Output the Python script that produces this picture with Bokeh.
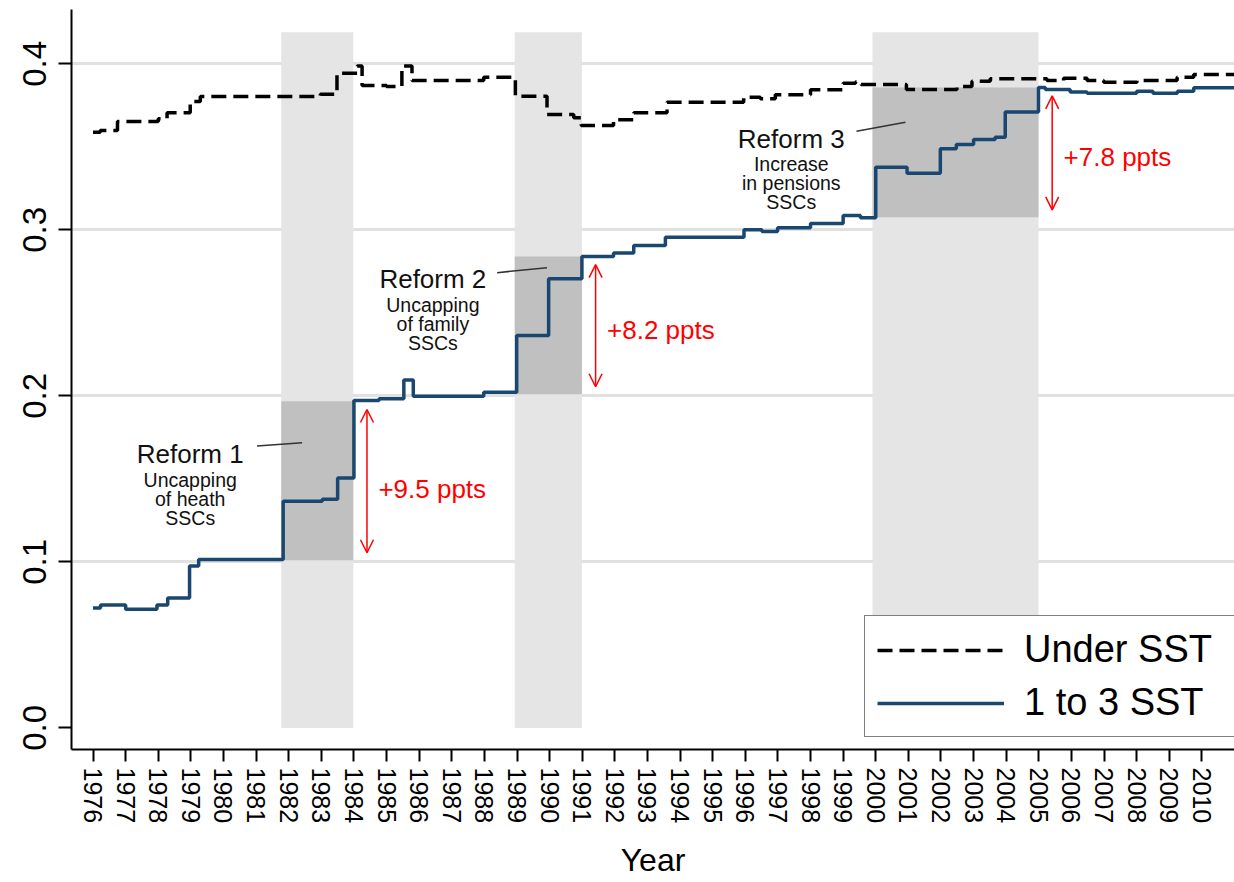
from bokeh.plotting import figure
from bokeh.models import (Range1d, FixedTicker, PrintfTickFormatter, Legend, LegendItem,
                          Arrow, OpenHead)
from bokeh.core.properties import value
from bokeh.embed import file_html
from bokeh.resources import INLINE

FONT = "Liberation Sans"

# ---------------- data ----------------
years = list(range(1976, 2011))
y_ticks = [0.0, 0.1, 0.2, 0.3, 0.4]
grid_ticks = [0.1, 0.2, 0.3, 0.4]

# "Under SST" (dashed black) : change points (time, value)
under_t = [1976.00, 1976.22, 1976.75, 1978.00, 1978.27, 1978.98, 1979.29, 1982.97,
           1983.48, 1984.10, 1984.25, 1985.00, 1985.47, 1985.78, 1987.98, 1988.95,
           1989.92, 1990.74, 1990.97, 1991.96, 1992.58, 1993.60, 1995.95, 1996.46,
           1996.92, 1998.00, 1999.00, 1999.38, 1999.55, 2000.94, 2002.49, 2002.95,
           2003.51, 2005.25, 2005.76, 2006.48, 2006.99, 2008.01, 2009.24, 2009.75,
           2011.00]
under_v = [0.3588, 0.3598, 0.3652, 0.3669, 0.3705, 0.3773, 0.3803, 0.3816,
           0.3943, 0.3986, 0.3869, 0.3863, 0.3986, 0.3899, 0.3919, 0.3805,
           0.3695, 0.3675, 0.3628, 0.3663, 0.3705, 0.3769, 0.3799, 0.3790,
           0.3813, 0.3843, 0.3883, 0.3890, 0.3875, 0.3845, 0.3863, 0.3895,
           0.3910, 0.3900, 0.3913, 0.3900, 0.3889, 0.3900, 0.3919, 0.3935,
           0.3935]

# "1 to 3 SST" (solid navy) : change points (time, value)
sst_t = [1976.00, 1976.23, 1977.00, 1977.96, 1978.29, 1978.96, 1979.24, 1981.83,
         1983.03, 1983.50, 1984.00, 1984.77, 1985.53, 1985.82, 1987.98, 1988.99,
         1989.97, 1990.99, 1991.96, 1992.58, 1993.55, 1995.96, 1996.51, 1996.99,
         1998.00, 1999.00, 1999.53, 2000.00, 2000.96, 2001.98, 2002.47, 2003.00,
         2003.66, 2003.97, 2004.99, 2005.20, 2005.96, 2006.48, 2008.00, 2008.50,
         2009.25, 2009.75, 2011.00]
sst_v = [0.0722, 0.0741, 0.0715, 0.0741, 0.0783, 0.0975, 0.1015, 0.1365,
         0.1378, 0.1505, 0.1972, 0.1982, 0.2096, 0.1998, 0.2021, 0.2364,
         0.2705, 0.2840, 0.2860, 0.2906, 0.2956, 0.3000, 0.2990, 0.3012,
         0.3038, 0.3087, 0.3073, 0.3377, 0.3341, 0.3488, 0.3514, 0.3544,
         0.3558, 0.3709, 0.3857, 0.3845, 0.3830, 0.3823, 0.3835, 0.3822,
         0.3835, 0.3855, 0.3855]

reform_start = [1981.77, 1988.93, 1999.90]
reform_end = [1983.98, 1990.99, 2004.99]
rate_before = [0.1010, 0.2010, 0.3075]
rate_after = [0.1968, 0.2840, 0.3857]
band_top = 0.419
reform_titles = ["Reform 1", "Reform 2", "Reform 3"]
reform_notes = [["Uncapping", "of heath", "SSCs"],
                ["Uncapping", "of family", "SSCs"],
                ["Increase", "in pensions", "SSCs"]]
gain_labels = ["+9.5 ppts", "+8.2 ppts", "+7.8 ppts"]

# ------------- annotation placement -------------
title_x = [1978.98, 1986.42, 1997.41]
title_y = [0.1648, 0.2701, 0.3548]
note_dy = [0.0153, 0.0267, 0.0381]
leader_x0 = [1981.03, 1988.39, 1999.41]
leader_y0 = [0.1698, 0.2742, 0.3594]
leader_x1 = [1982.41, 1989.92, 2000.91]
leader_y1 = [0.1718, 0.2772, 0.3648]
arrow_dx = 0.42
gain_dx = 0.77
gain_y = [0.1441, 0.2398, 0.3438]

NAVY = "#1a476f"

p = figure(width=1234, height=882, output_backend="svg", toolbar_location=None,
           x_range=Range1d(1975.34, 2011.0), y_range=Range1d(-0.013, 0.4327),
           min_border_left=71, min_border_right=0, min_border_top=9,
           min_border_bottom=133)
p.outline_line_color = None
p.background_fill_color = "white"
p.border_fill_color = "white"

# grid
p.xgrid.grid_line_color = None
p.ygrid.ticker = FixedTicker(ticks=grid_ticks)
p.ygrid.grid_line_color = "#e1e1e1"
p.ygrid.grid_line_width = 3

# bands
p.quad(left=reform_start, right=reform_end, bottom=0, top=band_top,
       fill_color="#e5e5e5", line_color=None)
p.quad(left=reform_start, right=reform_end, bottom=rate_before, top=rate_after,
       fill_color="#c0c0c0", line_color=None)

# series
r_under = p.step(under_t, under_v, mode="after", line_color="black", line_width=3.5,
                 line_dash="15 7")
r_sst = p.step(sst_t, sst_v, mode="after", line_color=NAVY, line_width=3.5)

# leader lines
p.segment(x0=leader_x0, y0=leader_y0, x1=leader_x1, y1=leader_y1,
          line_color="#333333", line_width=1.5)

# reform texts
p.text(x=title_x, y=title_y, text=reform_titles, text_font=value(FONT),
       text_font_size="26px", text_align="center", text_baseline="alphabetic",
       text_color="#111111")
for k in range(3):
    xs = [title_x[i] for i in range(3)]
    ys = [title_y[i] - note_dy[k] for i in range(3)]
    ts = [reform_notes[i][k] for i in range(3)]
    p.text(x=xs, y=ys, text=ts, text_font=value(FONT), text_font_size="19.5px",
           text_align="center", text_baseline="alphabetic", text_color="#111111")

# arrows and gains
for i in range(3):
    ax = reform_end[i] + arrow_dx
    p.add_layout(Arrow(x_start=ax, y_start=rate_before[i] + 0.0045,
                       x_end=ax, y_end=rate_after[i] - 0.005,
                       line_color="red", line_width=1.5,
                       start=OpenHead(size=13, line_color="red", line_width=1.5),
                       end=OpenHead(size=13, line_color="red", line_width=1.5)))
p.text(x=[reform_end[i] + gain_dx for i in range(3)], y=gain_y, text=gain_labels,
       text_font=value(FONT), text_font_size="26px", text_align="left",
       text_baseline="alphabetic", text_color="red")

# axes
p.xaxis.ticker = FixedTicker(ticks=years)
p.xaxis.major_label_orientation = "vertical"
p.xaxis.major_label_text_font = FONT
p.xaxis.major_label_text_font_size = "25px"
p.xaxis.major_label_text_color = "black"
p.xaxis.major_label_standoff = 6
p.xaxis.major_tick_out = 12
p.xaxis.major_tick_in = 0
p.xaxis.minor_tick_out = 0
p.xaxis.minor_tick_in = 0
p.xaxis.axis_label = "Year"
p.xaxis.axis_label_text_font = FONT
p.xaxis.axis_label_text_font_size = "32px"
p.xaxis.axis_label_text_font_style = "normal"
p.xaxis.axis_label_text_color = "black"
p.xaxis.axis_label_standoff = 16

p.yaxis.ticker = FixedTicker(ticks=y_ticks)
p.yaxis.formatter = PrintfTickFormatter(format="%.1f")
p.yaxis.major_label_orientation = "vertical"
p.yaxis.major_label_text_font = FONT
p.yaxis.major_label_text_font_size = "33px"
p.yaxis.major_label_text_color = "black"
p.yaxis.major_label_standoff = 12
p.yaxis.major_tick_out = 13
p.yaxis.major_tick_in = 0
p.yaxis.minor_tick_out = 0
p.yaxis.minor_tick_in = 0

for ax in (p.xaxis, p.yaxis):
    ax.axis_line_color = "black"
    ax.axis_line_width = 2
    ax.major_tick_line_color = "black"
    ax.major_tick_line_width = 2

legend = Legend(items=[LegendItem(label="Under SST", renderers=[r_under]),
                       LegendItem(label="1 to 3 SST", renderers=[r_sst])],
                location=(793, 12), orientation="vertical",
                border_line_color="black", border_line_width=1.5,
                background_fill_color="white", background_fill_alpha=1.0,
                padding=12, spacing=10, margin=0, label_standoff=20,
                glyph_width=127, glyph_height=40, label_height=40, label_width=200,
                label_text_font=FONT, label_text_font_size="38px",
                label_text_color="black")
p.add_layout(legend)

open("out.html", "w").write(file_html(p, INLINE))
